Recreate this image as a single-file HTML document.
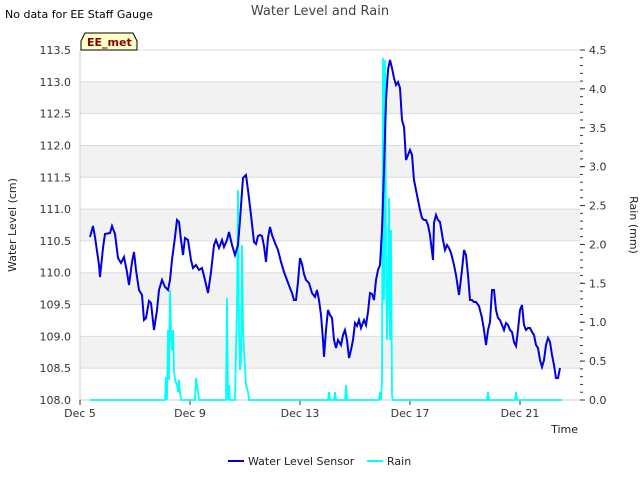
<!DOCTYPE html>
<html><head><meta charset="utf-8"><style>
body{margin:0;background:#fff;font-family:"DejaVu Sans","Liberation Sans",sans-serif;}
svg text{font-family:"DejaVu Sans","Liberation Sans",sans-serif;}
</style></head><body>
<svg id="chart" width="640" height="480" xmlns="http://www.w3.org/2000/svg">
<text x="5" y="18" font-size="11" fill="#000">No data for EE Staff Gauge</text>
<text x="320" y="15" font-size="13" fill="#444" text-anchor="middle">Water Level and Rain</text>
<g id="grid"></g>
<g id="axes"></g>
<g id="series"></g>
<g>
<path d="M81,41 L85,33 L133,33 L137,41 L137,50 L81,50 Z" fill="#ffffc8" stroke="#000" stroke-width="1"/>
<text x="87" y="46" font-size="11" font-weight="bold" fill="#8b0000">EE_met</text>
</g>
<text x="16" y="225" font-size="11" fill="#222" text-anchor="middle" transform="rotate(-90 16 225)">Water Level (cm)</text>
<text x="630" y="225" font-size="11" fill="#222" text-anchor="middle" transform="rotate(90 630 225)">Rain (mm)</text>
<text x="578" y="433" font-size="11" fill="#222" text-anchor="end">Time</text>
<g>
<line x1="228" y1="461" x2="244" y2="461" stroke="#0000dd" stroke-width="2"/>
<text x="248" y="465" font-size="11" fill="#222">Water Level Sensor</text>
<line x1="367" y1="461" x2="383" y2="461" stroke="#00ffff" stroke-width="2"/>
<text x="387" y="465" font-size="11" fill="#222">Rain</text>
</g>
</svg>
<script>
const xTickLabels=["Dec 5","Dec 9","Dec 13","Dec 17","Dec 21"];
const xTickDays=[0,4,8,12,16];
const leftTicks=[108.0,108.5,109.0,109.5,110.0,110.5,111.0,111.5,112.0,112.5,113.0,113.5];
const rightTicks=[0.0,0.5,1.0,1.5,2.0,2.5,3.0,3.5,4.0,4.5];
const wlPx=[[90,237],[93,226],[95,237],[99,265],[100,277],[103,248],[105,234],[110,233],[112,226],[115,234],[118,258],[121,263],[124,257],[127,272],[129,285],[132,262],[134,252],[136,270],[139,290],[142,295],[144,320],[146,318],[149,301],[151,303],[154,330],[157,310],[159,290],[162,280],[165,287],[168,290],[170,280],[172,260],[175,237],[177,220],[179,222],[181,240],[183,255],[185,238],[188,240],[191,260],[193,268],[196,265],[199,270],[202,268],[205,280],[208,293],[211,272],[214,245],[216,240],[219,248],[222,240],[224,247],[227,240],[229,232],[232,245],[235,255],[238,245],[240,220],[243,178],[246,175],[248,190],[251,215],[254,242],[256,244],[258,236],[260,235],[262,236],[264,246],[266,262],[268,238],[270,227],[272,235],[275,243],[278,250],[281,262],[284,272],[287,280],[290,288],[292,293],[294,300],[296,300],[298,282],[300,258],[302,264],[304,274],[306,280],[309,283],[312,293],[315,297],[317,290],[319,300],[321,315],[323,340],[324,357],[326,330],[328,310],[330,315],[332,318],[334,340],[336,348],[338,340],[341,345],[343,335],[345,330],[347,340],[349,358],[351,350],[353,340],[355,323],[357,326],[359,320],[361,328],[364,320],[366,325],[368,312],[370,293],[372,294],[374,300],[376,280],[378,270],[380,265],[382,230],[384,170],[386,100],[388,70],[390,60],[392,68],[394,78],[396,85],[398,82],[400,88],[402,120],[404,127],[406,160],[408,155],[410,150],[412,155],[414,180],[416,190],[418,200],[420,210],[422,218],[424,220],[426,220],[428,225],[430,235],[433,260],[434,223],[436,215],[438,220],[440,222],[443,240],[445,250],[447,245],[449,248],[451,253],[454,265],[456,275],[459,295],[462,270],[464,250],[466,255],[468,275],[470,300],[472,300],[474,302],[476,302],[479,306],[482,318],[484,330],[486,345],[488,330],[490,322],[492,290],[494,290],[496,310],[498,318],[500,320],[502,325],[504,330],[506,323],[508,325],[510,330],[512,332],[514,342],[516,346],[518,330],[520,310],[522,305],[524,325],[526,330],[528,328],[530,328],[532,332],[534,335],[536,345],[538,348],[540,360],[542,367],[544,360],[546,345],[548,338],[550,342],[552,355],[554,365],[556,378],[558,378],[560,368]];
const wlDays=wlPx.map(p=>+((p[0]-80)/27.5).toFixed(3));
const wlValues=wlPx.map(p=>+(108+(400-p[1])/63.636).toFixed(3));
const rainPx=[[90,400],[165,400],[166,377],[167,400],[168,330],[169,380],[170,290],[171,330],[172,350],[173,330],[174,370],[175,380],[177,385],[178,392],[179,380],[180,392],[181,400],[195,400],[196,378],[198,392],[199,400],[226,400],[227,298],[228,400],[229,385],[230,400],[235,400],[236,350],[237,305],[238,190],[239,330],[240,370],[241,360],[242,245],[243,330],[244,350],[246,385],[248,392],[249,400],[328,400],[329,392],[330,400],[334,400],[335,392],[336,400],[345,400],[346,385],[347,400],[379,400],[380,392],[381,400],[382,380],[383,58],[384,300],[385,60],[386,250],[387,340],[388,300],[389,198],[390,340],[391,230],[392,395],[393,400],[487,400],[488,392],[489,400],[515,400],[516,392],[517,400],[562,400]];
const rainDays=rainPx.map(p=>+((p[0]-80)/27.5).toFixed(3));
const rainValues=rainPx.map(p=>+((400-p[1])/77.778).toFixed(3));

const X0=80,X1=580,Y0=400,Y1=50;
const xScale=d=>X0+d*27.5;
const yL=v=>Y0-(v-108)/5.5*(Y0-Y1);
const yR=v=>Y0-v/4.5*(Y0-Y1);
const NS="http://www.w3.org/2000/svg";
function mk(tag,attrs,parent){const e=document.createElementNS(NS,tag);for(const k in attrs)e.setAttribute(k,attrs[k]);parent.appendChild(e);return e;}
const grid=document.getElementById('grid'),axes=document.getElementById('axes'),series=document.getElementById('series');
for(let i=0;i<leftTicks.length-1;i++){
  if(i%2===1){const r=mk('rect',{x:X0,y:yL(leftTicks[i+1]),width:X1-X0,height:yL(leftTicks[i])-yL(leftTicks[i+1]),fill:'#f2f2f2'},grid);
  
  }
}
leftTicks.forEach(v=>{
  const l=mk('line',{x1:X0,x2:X1,y1:yL(v),y2:yL(v),stroke:'#dcdcdc'},grid);
  
  
  const t=mk('text',{x:X0-9,y:yL(v)+4,'font-size':11,fill:'#333','text-anchor':'end'},axes);
  t.textContent=v.toFixed(1);
  
  
});
rightTicks.forEach(v=>{
  const t=mk('text',{x:X1+9,y:yR(v)+4,'font-size':11,fill:'#333'},axes);
  t.textContent=v.toFixed(1);
  
  
  mk('line',{x1:X1,x2:X1+5,y1:yR(v),y2:yR(v),stroke:'#333'},axes);
});
for(let v=0;v<=4.5;v+=0.1){mk('line',{x1:X1,x2:X1+3,y1:yR(v),y2:yR(v),stroke:'#333'},axes);}
mk('line',{x1:X0,x2:X0,y1:Y1,y2:Y0,stroke:'#ccc'},axes);
mk('line',{x1:X0,x2:X1,y1:Y0,y2:Y0,stroke:'#ccc'},axes);
xTickDays.forEach((d,i)=>{
  mk('line',{x1:xScale(d),x2:xScale(d),y1:Y0,y2:Y0+5,stroke:'#333'},axes);
  const t=mk('text',{x:xScale(d),y:Y0+17,'font-size':11,fill:'#333','text-anchor':'middle'},axes);
  t.textContent=xTickLabels[i];
  
  
});
const rp=mk('polyline',{points:rainDays.map((d,i)=>xScale(d)+','+yR(rainValues[i])).join(' '),fill:'none',stroke:'#00ffff','stroke-width':1.8},series);


const wp=mk('polyline',{points:wlDays.map((d,i)=>xScale(d)+','+yL(wlValues[i])).join(' '),fill:'none',stroke:'#0000e0','stroke-width':2},series);


</script>
</body></html>
